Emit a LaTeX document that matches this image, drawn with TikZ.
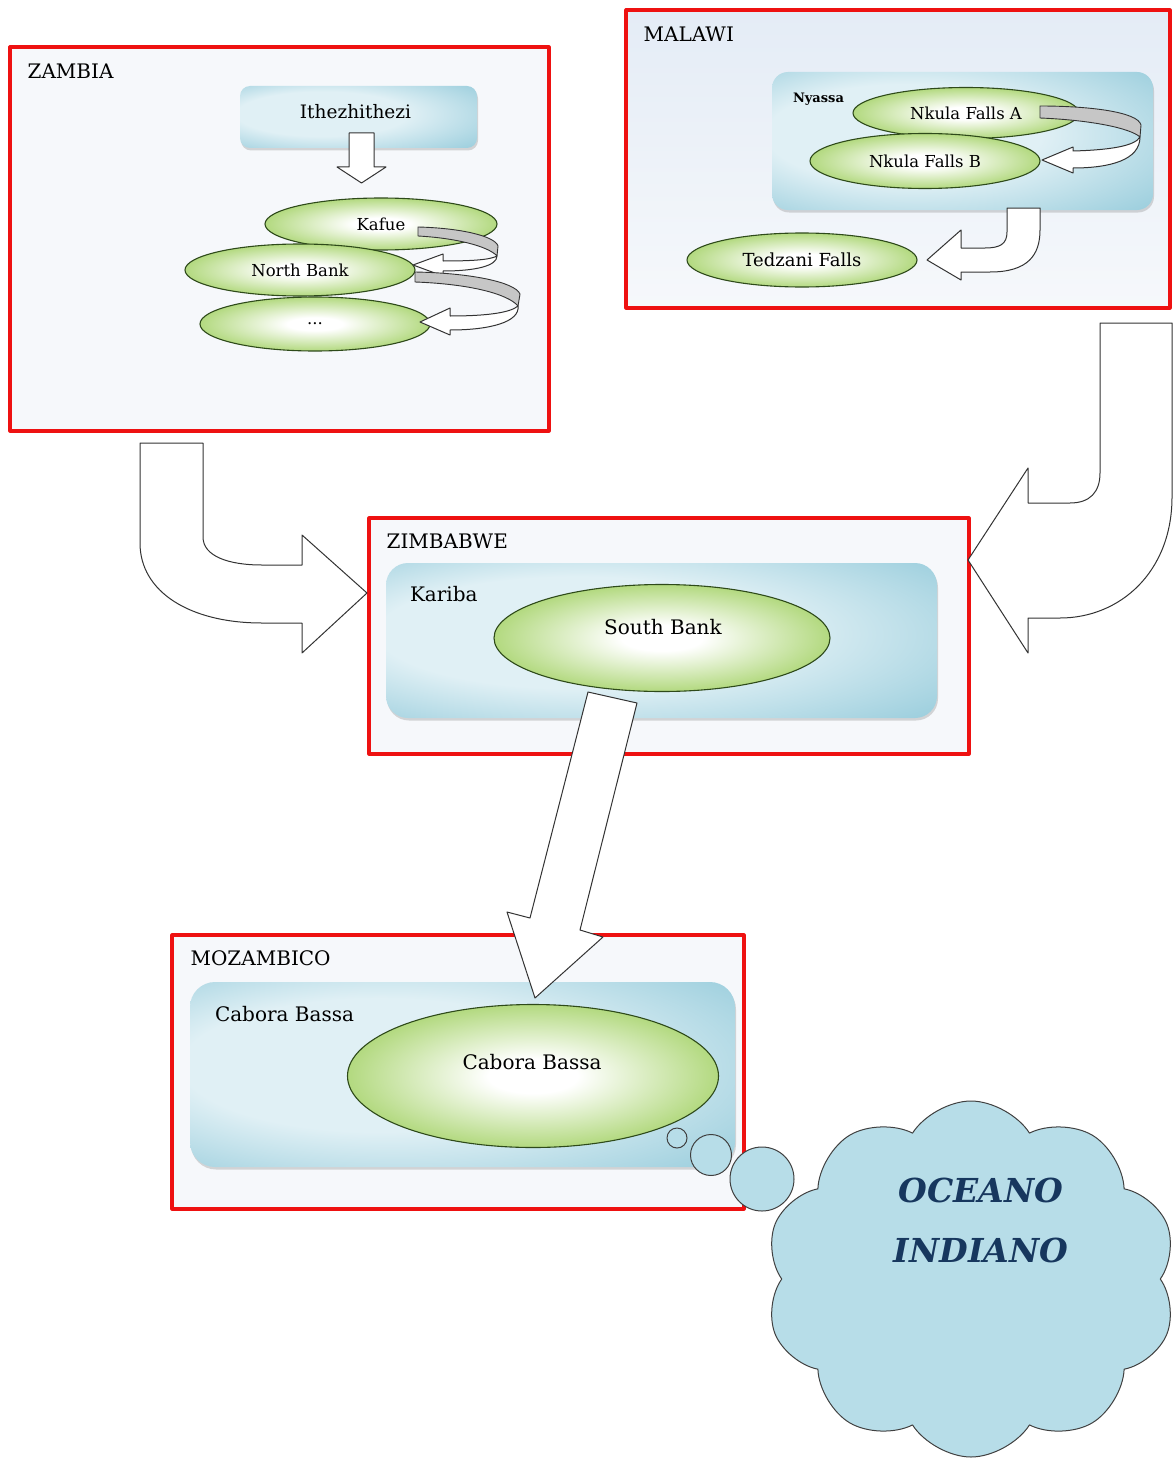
\documentclass[tikz,border=0pt]{standalone}
\usepackage{fontspec}
\setmainfont{DejaVu Serif}
\usetikzlibrary{calc, positioning, shapes.geometric, shapes.symbols, shadows}

\definecolor{boxred}{HTML}{EE1111}
\definecolor{panelbg}{HTML}{F6F8FB}
\definecolor{malawitop}{HTML}{E4ECF6}
\definecolor{poollight}{HTML}{E0F0F5}
\definecolor{pooldark}{HTML}{8DC7D8}
\definecolor{leaf}{HTML}{8CC63F}
\definecolor{leafline}{HTML}{2E4A1A}
\definecolor{ribbongray}{HTML}{C6C6C6}
\definecolor{oceanfill}{HTML}{B7DDE8}
\definecolor{oceantext}{HTML}{17375E}

\pgfdeclareradialshading{leafglow}{\pgfpoint{0bp}{0bp}}{color(0bp)=(white); color(6bp)=(white); color(26bp)=(leaf!70!white); color(42bp)=(leaf); color(50bp)=(leaf)}
\pgfdeclareradialshading{poolglow}{\pgfpoint{-12bp}{4bp}}{color(0bp)=(poollight); color(18bp)=(poollight); color(42bp)=(pooldark); color(50bp)=(pooldark)}

\begin{document}
\begin{tikzpicture}[x=1pt, y=-1pt, font=\fontsize{20}{24}\selectfont, line join=round]
	\tikzstyle{country}=[rectangle, draw=boxred, line width=3.2pt, fill=panelbg, inner sep=0pt]
	\tikzstyle{tag}=[anchor=west, inner sep=0pt]
	\tikzstyle{basin}=[rectangle, shade, shading=poolglow, inner sep=0pt, drop shadow={opacity=0.3, shadow xshift=1pt, shadow yshift=-2.5pt}]
	\tikzstyle{dam}=[ellipse, draw=leafline, line width=1.1pt, shade, shading=leafglow, inner sep=0pt, font=\fontsize{16.5}{20}\selectfont]
	\tikzstyle{blockarrow}=[draw=black!80, line width=1pt, fill=white]
	\tikzstyle{twist}=[draw=black!80, line width=0.9pt, fill=ribbongray]
	\tikzstyle{bubble}=[circle, draw=black!75, line width=1pt, fill=oceanfill, inner sep=0pt]
	
	\fill[white] (0,0) rectangle (1174,1458);
	\useasboundingbox (0,0) rectangle (1174,1458);
	
	\node[country, minimum width=539pt, minimum height=384pt] (zambia) at (279.5,239) {};
	\node[country, minimum width=544pt, minimum height=298pt, top color=malawitop, bottom color=panelbg] (malawi) at (898,159) {};
	\node[country, minimum width=600pt, minimum height=236pt] (zimbabwe) at (669,636) {};
	\node[country, minimum width=572pt, minimum height=274pt] (mozambico) at (458,1072) {};
	
	\node[tag] at ($(zambia.north west)+(19,26)$) {ZAMBIA};
	\node[tag] at ($(malawi.north west)+(19,26)$) {MALAWI};
	\node[tag] at ($(zimbabwe.north west)+(19,25)$) {ZIMBABWE};
	\node[tag] at ($(mozambico.north west)+(20,25)$) {MOZAMBICO};
	
	\node[basin, rounded corners=10pt, minimum width=237pt, minimum height=62pt] (ithez) at (358.5,117) {};
	\node[font=\fontsize{18.5}{22}\selectfont] at ($(ithez)+(-3,-5)$) {Ithezhithezi};
	\node[basin, rounded corners=16pt, minimum width=381pt, minimum height=138pt] (nyassa) at (962.5,141) {};
	\node[tag, font=\fontsize{13}{15}\selectfont\bfseries] at ($(nyassa.west)+(21,-42)$) {Nyassa};
	\node[basin, rounded corners=22pt, minimum width=551pt, minimum height=155pt] (kariba) at (661.5,640.5) {};
	\node[tag] at ($(kariba.west)+(24,-46)$) {Kariba};
	\node[basin, rounded corners=25pt, minimum width=545pt, minimum height=185pt] (cabora) at (462.5,1074.5) {};
	\node[tag] at ($(cabora.west)+(25,-60)$) {Cabora Bassa};
	
	\node[dam, minimum width=232pt, minimum height=52pt] (kafue) at (381,224) {Kafue};
	\node[dam, minimum width=230pt, minimum height=54pt] (dots) at (315,324) {...};
	\node[dam, minimum width=230pt, minimum height=52pt] (north) at (300,270) {North Bank};
	\node[dam, minimum width=226pt, minimum height=51pt] (nkulaA) at (966,113) {Nkula Falls A};
	\node[dam, minimum width=230pt, minimum height=55pt] (nkulaB) at (925,161) {Nkula Falls B};
	\node[dam, minimum width=230pt, minimum height=54pt, font=\fontsize{18}{22}\selectfont] (tedzani) at (802,260) {Tedzani Falls};
	\node[dam, minimum width=336pt, minimum height=107pt] (south) at (662,638) {};
	\node at ($(south)+(1,-11)$) {South Bank};
	\node[dam, minimum width=371pt, minimum height=143pt] (bassa) at (533,1076) {};
	\node at ($(bassa)+(-1,-14)$) {Cabora Bassa};
	
	\draw[blockarrow] (349,133) -- (374,133) -- (374,167) -- (386,167) -- (361.5,183) -- (337,167) -- (349,167) -- cycle;
	
	\draw[twist] (418,227) .. controls (460,228) and (495,236) .. (498,246) -- (497,256) .. controls (488,246) and (455,238) .. (418,236) -- cycle;
	\draw[blockarrow] (497,256) .. controls (497,266) and (475,271) .. (443,271) -- (443,276) -- (413,265) -- (443,254) -- (443,261) .. controls (470,261) and (490,260) .. (497,256) -- cycle;
	\draw[twist] (415,272) .. controls (470,273) and (515,282) .. (520,294) -- (518,306) .. controls (508,294) and (470,284) .. (415,282) -- cycle;
	\draw[blockarrow] (518,306) .. controls (520,322) and (490,330) .. (450,330) -- (450,335) -- (420,322) -- (450,308) -- (450,316) .. controls (485,316) and (510,313) .. (518,306) -- cycle;
	\draw[twist] (1040,106) .. controls (1090,106) and (1138,112) .. (1141,125) -- (1140,137) .. controls (1130,128) and (1090,120) .. (1040,118) -- cycle;
	\draw[blockarrow] (1140,137) .. controls (1140,160) and (1110,168) .. (1073,168) -- (1073,173) -- (1042,160) -- (1073,147) -- (1073,151) .. controls (1110,150) and (1135,146) .. (1140,137) -- cycle;
	
	\draw[blockarrow] (1007,208) -- (1007,232) .. controls (1007,244) and (1000,248) .. (985,248) -- (961,248) -- (961,230) -- (927,260) -- (961,280) -- (961,272) -- (990,272) .. controls (1028,272) and (1040,255) .. (1040,230) -- (1040,208) -- cycle;
	
	\draw[blockarrow] (140,443) -- (203,443) -- (203,537) .. controls (203,556) and (228,565) .. (262,565) -- (302,565) -- (302,535) -- (367,593) -- (302,653) -- (302,623) -- (262,623) .. controls (190,623) and (140,592) .. (140,543) -- cycle;
	\draw[blockarrow] (1100,323) -- (1172,323) -- (1172,497) .. controls (1172,572) and (1120,618) .. (1060,618) -- (1028,618) -- (1028,653) -- (968,560) -- (1028,468) -- (1028,503) -- (1070,503) .. controls (1090,503) and (1100,492) .. (1100,473) -- cycle;
	\draw[blockarrow] (588,692) -- (637,703) -- (580,930) -- (603,937) -- (535,998) -- (507,912) -- (530,918) -- cycle;
	
	\node[bubble, minimum size=20pt] (b1) at (677,1138) {};
	\node[bubble, minimum size=41pt] (b2) at (711,1155) {};
	\node[bubble, minimum size=64pt] (b3) at (762,1179) {};
	\node[cloud, cloud puffs=10, cloud puff arc=115, aspect=1.15, draw=black!75, line width=1pt, fill=oceanfill, minimum width=412pt, minimum height=356pt] (ocean) at (971,1279) {};
	\node[font=\fontsize{33}{36}\selectfont\bfseries\itshape, text=oceantext] at (981,1190) {OCEANO};
	\node[font=\fontsize{33}{36}\selectfont\bfseries\itshape, text=oceantext] at (981,1250) {INDIANO};
\end{tikzpicture}
\end{document}
